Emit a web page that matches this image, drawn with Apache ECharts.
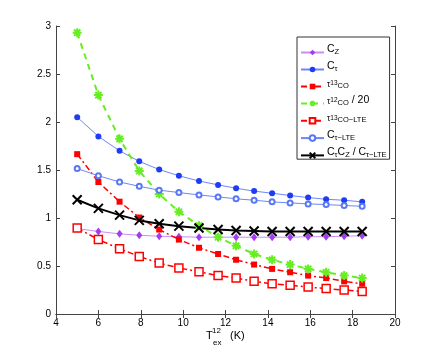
<!DOCTYPE html>
<html>
<head>
<meta charset="utf-8">
<script src="https://cdn.jsdelivr.net/npm/echarts@6/dist/echarts.min.js"></script>
<style>
  html, body { margin: 0; padding: 0; background: #fff; }
  #main { width: 436px; height: 354px; }
</style>
</head>
<body>
<div id="main"></div>
<script>
// Tex^12 (K)
var tex = [5, 6, 7, 7.93, 8.87, 9.8, 10.75, 11.65, 12.5, 13.35, 14.2, 15.05, 15.9, 16.75, 17.6, 18.45];

var cZ     = [0.89, 0.86, 0.835, 0.82, 0.81, 0.805, 0.80, 0.80, 0.80, 0.80, 0.80, 0.80, 0.805, 0.805, 0.81, 0.815];
var cTau   = [2.05, 1.85, 1.70, 1.59, 1.505, 1.44, 1.385, 1.345, 1.31, 1.28, 1.258, 1.234, 1.213, 1.195, 1.185, 1.168];
var tau13  = [1.665, 1.375, 1.17, 1.005, 0.88, 0.775, 0.69, 0.625, 0.565, 0.515, 0.47, 0.435, 0.40, 0.375, 0.34, 0.315];
var tau12  = [2.93, 2.28, 1.825, 1.49, 1.25, 1.065, 0.92, 0.80, 0.71, 0.625, 0.565, 0.515, 0.47, 0.435, 0.40, 0.375];
var tau13L = [0.895, 0.775, 0.68, 0.60, 0.53, 0.48, 0.44, 0.40, 0.375, 0.34, 0.315, 0.30, 0.28, 0.265, 0.25, 0.235];
var cTauL  = [1.515, 1.44, 1.375, 1.33, 1.29, 1.265, 1.24, 1.22, 1.20, 1.185, 1.168, 1.157, 1.147, 1.14, 1.13, 1.122];
var ratio  = [1.19, 1.10, 1.03, 0.975, 0.94, 0.915, 0.895, 0.88, 0.87, 0.865, 0.86, 0.86, 0.86, 0.86, 0.86, 0.86];

var xTicks = [4, 6, 8, 10, 12, 14, 16, 18, 20];
var yTicks = ['0', '0.5', '1', '1.5', '2', '2.5', '3'];

function pairs(ys) {
    return ys.map(function (y, i) { return [tex[i], y]; });
}

// legend labels (rich text)
var labels = {
    'Cz':     '{m|C}{sub|Z}',
    'Ct':     '{m|C}{sub|τ}',
    'tau13':  '{s|τ}{sup|13}{sub|CO}',
    'tau12':  '{s|τ}{sup|12}{sub|CO}{m| / 20}',
    'tau13L': '{s|τ}{sup|13}{sub|CO−LTE}',
    'CtL':    '{m|C}{sub|τ−LTE}',
    'ratio':  '{m|C}{sub|τ}{m|C}{sub|Z}{m| / C}{sub|τ−LTE}'
};

var xPath = 'path://M0,0 L10,10 M10,0 L0,10';
var starPath = 'path://M5,0 L5,10 M0,5 L10,5 M1.5,1.5 L8.5,8.5 M8.5,1.5 L1.5,8.5';

var myChart = echarts.init(document.getElementById('main'));

var option = {
    animation: false,
    backgroundColor: '#fff',
    textStyle: { fontFamily: 'Liberation Sans' },
    grid: { left: 56, right: 41, top: 26, bottom: 40 },
    legend: {
        orient: 'vertical',
        left: 297,
        top: 37,
        padding: [2, 3, 0, 3],
        itemWidth: 23,
        itemHeight: 7,
        itemGap: 0,
        backgroundColor: '#fff',
        borderColor: '#333',
        borderWidth: 1,
        borderRadius: 0,
        data: ['Cz', 'Ct', 'tau13', 'tau12', 'tau13L', 'CtL', 'ratio'],
        formatter: function (name) { return labels[name]; },
        textStyle: {
            padding: [0, 0, 5, -2],
            rich: {
                m:   { fontSize: 10.5, color: '#000', lineHeight: 12, verticalAlign: 'top' },
                s:   { fontSize: 8.5, color: '#000', lineHeight: 12, verticalAlign: 'top', padding: [2, 0, 0, 0] },
                sup: { fontSize: 6.5, color: '#000', lineHeight: 8, verticalAlign: 'top', padding: [2, 0, 0, 0] },
                sub: { fontSize: 7.5, color: '#000', lineHeight: 8, verticalAlign: 'bottom', padding: [9, 0, 0, 0] }
            }
        }
    },
    xAxis: [{
        type: 'value',
        min: 4, max: 20, interval: 2,
        axisLine: { lineStyle: { color: '#444', width: 1 } },
        axisTick: { inside: true, length: 4, lineStyle: { color: '#444' } },
        axisLabel: { fontSize: 10, color: '#000', margin: 4,
            formatter: function (v) { return xTicks.indexOf(v) >= 0 ? String(v) : ''; } },
        splitLine: { show: false }
    }, {
        type: 'value',
        position: 'top',
        min: 4, max: 20, interval: 2,
        axisLine: { show: true, lineStyle: { color: '#444', width: 1 } },
        axisTick: { inside: true, length: 4, lineStyle: { color: '#444' } },
        axisLabel: { show: false },
        splitLine: { show: false }
    }],
    yAxis: [{
        type: 'value',
        min: 0, max: 3, interval: 0.5,
        axisLine: { show: true, lineStyle: { color: '#444', width: 1 } },
        axisTick: { show: true, inside: true, length: 4, lineStyle: { color: '#444' } },
        axisLabel: { fontSize: 10, color: '#000', margin: 5,
            formatter: function (v, i) { return yTicks[i] !== undefined ? yTicks[i] : ''; } },
        splitLine: { show: false }
    }, {
        type: 'value',
        position: 'right',
        min: 0, max: 3, interval: 0.5,
        axisLine: { show: true, lineStyle: { color: '#444', width: 1 } },
        axisTick: { show: true, inside: true, length: 4, lineStyle: { color: '#444' } },
        axisLabel: { show: false },
        splitLine: { show: false }
    }],
    // x axis title: T^12_ex (K)
    graphic: [
        { type: 'text', left: 206, top: 330,
          style: { text: 'T', fontSize: 11, fill: '#000', fontFamily: 'Liberation Sans' } },
        { type: 'text', left: 212, top: 327,
          style: { text: '12', fontSize: 8, fill: '#000', fontFamily: 'Liberation Sans' } },
        { type: 'text', left: 213, top: 339,
          style: { text: 'ex', fontSize: 8, fill: '#000', fontFamily: 'Liberation Sans' } },
        { type: 'text', left: 230, top: 330,
          style: { text: '(K)', fontSize: 11, fill: '#000', fontFamily: 'Liberation Sans' } }
    ],
    series: [
        {
            name: 'Cz', type: 'line', data: pairs(cZ),
            symbol: 'diamond', symbolSize: [6, 8],
            itemStyle: { color: '#a13cf0' },
            lineStyle: { color: '#cc8cf5', width: 1 }
        },
        {
            name: 'Ct', type: 'line', data: pairs(cTau),
            symbol: 'circle', symbolSize: 6,
            itemStyle: { color: '#1f3cf5' },
            lineStyle: { color: '#6f86f8', width: 1 }
        },
        {
            name: 'tau13', type: 'line', data: pairs(tau13),
            symbol: 'rect', symbolSize: 6,
            itemStyle: { color: '#ff0000' },
            lineStyle: { color: '#ff0000', width: 1.5, type: [6, 3, 2, 3] }
        },
        {
            name: 'tau12', type: 'line', data: pairs(tau12),
            symbol: starPath, symbolSize: 9,
            itemStyle: { color: '#66ee22', borderColor: '#66ee22', borderWidth: 2 },
            lineStyle: { color: '#66ee22', width: 2, type: [6, 5] }
        },
        {
            name: 'tau13L', type: 'line', data: pairs(tau13L),
            symbol: 'rect', symbolSize: 8,
            itemStyle: { color: '#fff', borderColor: '#ff0000', borderWidth: 1.5 },
            lineStyle: { color: '#ff0000', width: 1.5, type: [6, 3, 2, 3] }
        },
        {
            name: 'CtL', type: 'line', data: pairs(cTauL),
            symbol: 'emptyCircle', symbolSize: 5,
            itemStyle: { color: '#5a78f5', borderWidth: 1 },
            lineStyle: { color: '#6f86f8', width: 1 }
        },
        {
            name: 'ratio', type: 'line', data: pairs(ratio),
            symbol: xPath, symbolSize: 9,
            itemStyle: { color: '#000', borderColor: '#000', borderWidth: 2 },
            lineStyle: { color: '#000', width: 2 }
        }
    ]
};

myChart.setOption(option);
</script>
</body>
</html>
